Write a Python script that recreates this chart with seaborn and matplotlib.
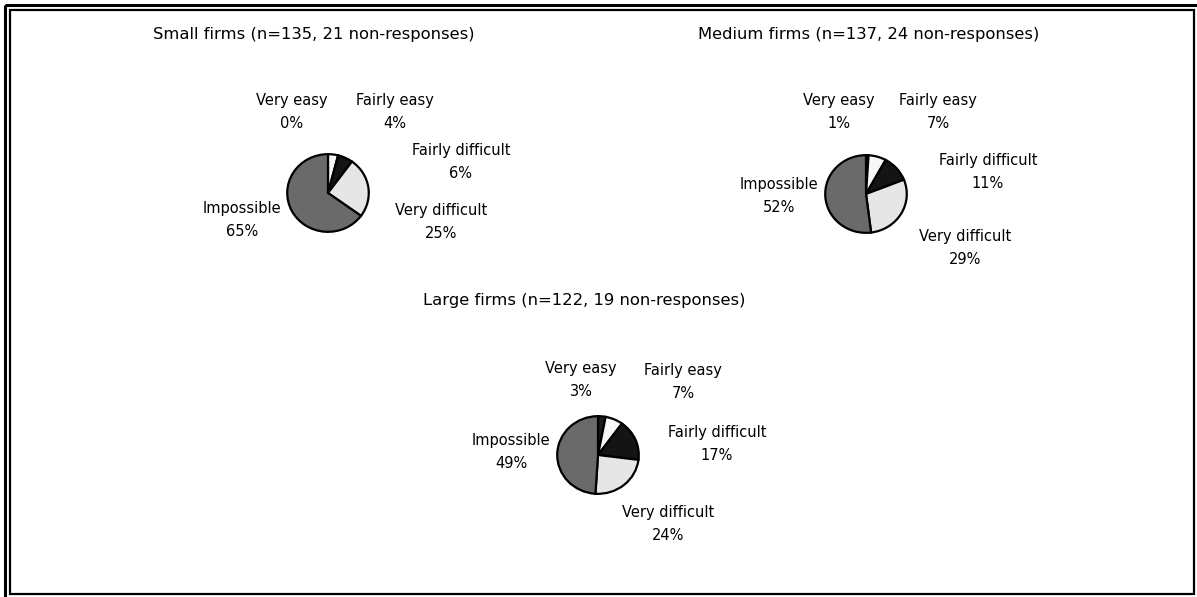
import matplotlib
matplotlib.use("Agg")
import matplotlib.pyplot as plt
import seaborn as sns
from matplotlib.patches import Rectangle

sns.set_theme(style="white")
plt.rcParams['font.family'] = ['DejaVu Sans']

W, H = 1197, 597

categories = ["Very easy", "Fairly easy", "Fairly difficult", "Very difficult", "Impossible"]
small = [0, 4, 6, 25, 65]
medium = [1, 7, 11, 29, 52]
large = [3, 7, 17, 24, 49]
titles = ["Small firms (n=135, 21 non-responses)",
          "Medium firms (n=137, 24 non-responses)",
          "Large firms (n=122, 19 non-responses)"]
colors = ["#1c1c1c", "#f7f7f7", "#141414", "#e6e6e6", "#6a6a6a"]

# layout in pixels: pie centre, pie width/height, title position, label (first line) positions
panels = [
    dict(values=small, title=titles[0], center=(328, 193), size=(84, 80), title_xy=(314, 35),
         labels=[(292, 100), (395, 100), (461, 151), (441, 210), (242, 208)]),
    dict(values=medium, title=titles[1], center=(866, 194), size=(84, 80), title_xy=(869, 35),
         labels=[(839, 100), (938, 100), (988, 161), (965, 237), (779, 185)]),
    dict(values=large, title=titles[2], center=(598, 455), size=(84, 80), title_xy=(584, 300),
         labels=[(581, 368), (683, 371), (717, 433), (668, 512), (511, 440)]),
]
line_gap = 23

fig = plt.figure(figsize=(W / 100, H / 100), dpi=100)
bg = fig.add_axes([0, 0, 1, 1])
bg.set_xlim(0, W)
bg.set_ylim(H, 0)
bg.axis("off")

# double border
bg.add_patch(Rectangle((5, 5), W + 10, H + 10, fill=False, lw=2.2, ec="black"))
bg.add_patch(Rectangle((10, 10), W - 13, H - 13, fill=False, lw=1.6, ec="black"))

for p in panels:
    cx, cy = p["center"]
    pw, ph = p["size"]
    ax = fig.add_axes([(cx - pw / 2) / W, 1 - (cy + ph / 2) / H, pw / W, ph / H])
    ax.pie(p["values"], colors=colors, startangle=90, counterclock=False,
           wedgeprops=dict(edgecolor="black", linewidth=1.6))
    ax.set_aspect("auto")
    ax.set_xlim(-1.03, 1.03)
    ax.set_ylim(-1.03, 1.03)
    ax.axis("off")

    bg.text(*p["title_xy"], p["title"], ha="center", va="center", fontsize=11.8, color="black")
    for cat, val, (lx, ly) in zip(categories, p["values"], p["labels"]):
        bg.text(lx, ly, cat, ha="center", va="center", fontsize=10.5, color="black")
        bg.text(lx, ly + line_gap, f"{val}%", ha="center", va="center", fontsize=10.5,
                color="black")

fig.savefig("out.png", dpi=100)
